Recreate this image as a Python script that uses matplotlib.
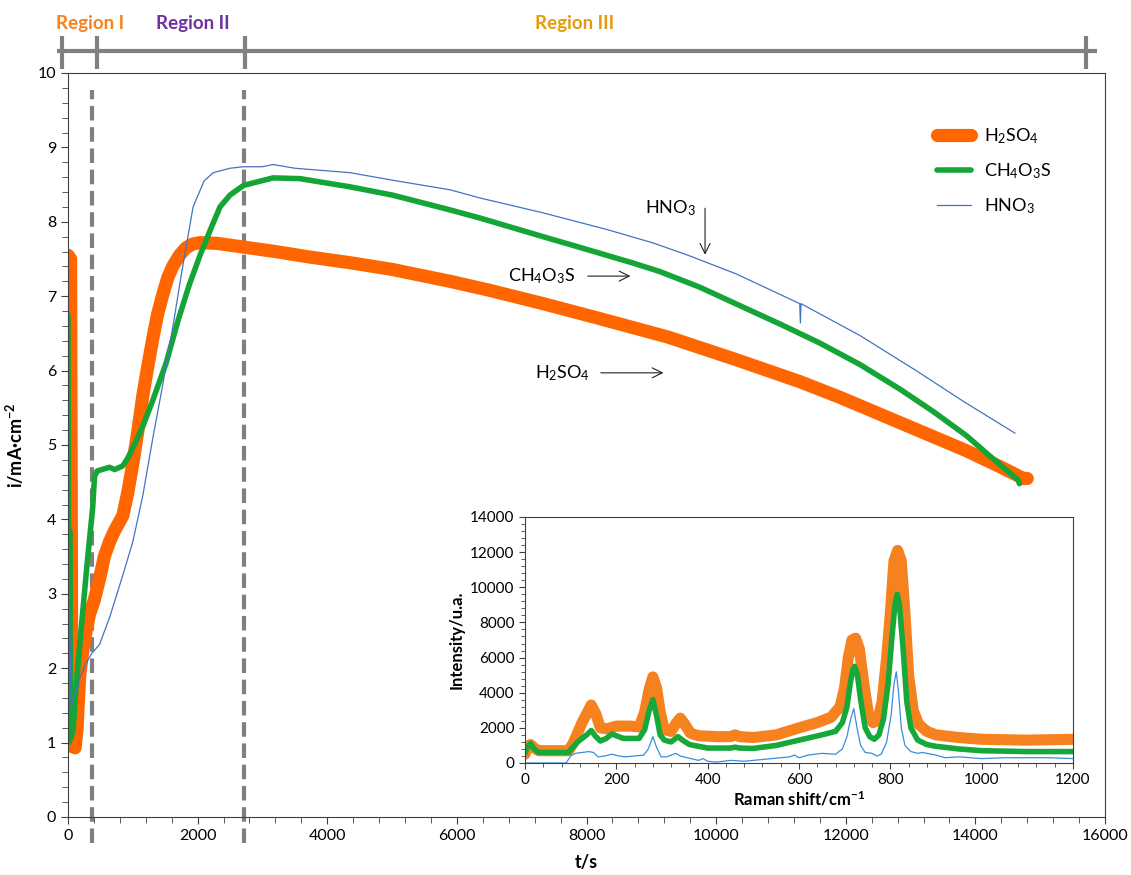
import numpy as np
import matplotlib.pyplot as plt
from matplotlib.ticker import MultipleLocator

plt.rcParams['font.family'] = ['Lato', 'DejaVu Sans']
plt.rcParams['mathtext.default'] = 'regular'

# curvas i-t (t en s, i en mA/cm2)
t_h2so4 = [0, 40, 60, 110, 140, 180, 230, 280, 333, 400, 487, 560, 641, 720, 846, 920, 1000, 1080,
           1154, 1230, 1308, 1380, 1462, 1540, 1615, 1720, 1820, 1920, 2037, 2300, 2710, 3200, 3700,
           4352, 5000, 5895, 6500, 7330, 8200, 9260, 10300, 11296, 11913, 12837, 13870, 14400, 14740, 14800]
i_h2so4 = [7.55, 7.5, 0.95, 0.93, 1.2, 1.9, 2.25, 2.5, 2.73, 2.9, 3.2, 3.5, 3.7, 3.85, 4.05, 4.35, 4.75, 5.2,
           5.66, 6.05, 6.43, 6.75, 7.02, 7.25, 7.4, 7.55, 7.65, 7.7, 7.72, 7.71, 7.66, 7.6, 7.53,
           7.45, 7.36, 7.2, 7.08, 6.9, 6.7, 6.45, 6.15, 5.85, 5.64, 5.3, 4.92, 4.7, 4.55, 4.55]

t_ch4o3s = [0, 15, 25, 40, 77, 120, 200, 300, 380, 410, 450, 487, 560, 641, 720, 846, 920, 1000, 1154,
            1308, 1513, 1700, 1870, 2037, 2200, 2345, 2500, 2710, 3164, 3580, 4352, 5000, 5895, 6358,
            7330, 8000, 8700, 9136, 9750, 10300, 11000, 11600, 12222, 12837, 13350, 13870, 14225, 14430,
            14660, 14680]
i_ch4o3s = [6.75, 1.0, 3.85, 1.05, 1.15, 1.7, 2.5, 3.45, 4.15, 4.58, 4.65, 4.66, 4.68, 4.7, 4.67, 4.72, 4.82, 4.96, 5.25,
            5.6, 6.1, 6.68, 7.15, 7.55, 7.9, 8.2, 8.36, 8.49, 8.59, 8.58, 8.47, 8.36, 8.16, 8.05,
            7.8, 7.63, 7.45, 7.33, 7.12, 6.9, 6.62, 6.37, 6.08, 5.75, 5.45, 5.12, 4.85, 4.7,
            4.53, 4.48]

t_hno3 = [0, 20, 50, 100, 180, 270, 360, 487, 641, 846, 1000, 1154, 1308, 1462, 1620, 1750, 1930, 2100,
          2240, 2500, 2710, 3000, 3164, 3500, 4352, 5000, 5895, 6358, 7330, 8300, 9012, 9568, 10309,
          11290, 11300, 11310, 12222, 13086, 13827, 14610]
i_hno3 = [6.6, 3.0, 1.48, 1.65, 1.86, 2.05, 2.19, 2.32, 2.68, 3.25, 3.7, 4.32, 5.09, 5.81, 6.6, 7.3, 8.2, 8.55,
          8.66, 8.72, 8.74, 8.74, 8.77, 8.72, 8.66, 8.56, 8.43, 8.32, 8.12, 7.9, 7.72, 7.55, 7.3,
          6.9, 6.64, 6.9, 6.47, 6.0, 5.58, 5.16]

# espectro raman del recuadro
x_r_h2so4 = [0, 5, 12, 20, 30, 60, 95, 105, 115, 125, 135, 145, 155, 165, 180, 200, 230, 250, 262, 272,
             280, 288, 296, 305, 320, 332, 340, 350, 362, 380, 420, 450, 460, 470, 500, 550, 600, 640,
             670, 690, 700, 708, 716, 724, 732, 742, 752, 762, 772, 782, 792, 800, 808, 816, 824, 832,
             840, 850, 862, 880, 900, 950, 1000, 1100, 1200]
y_r_h2so4 = [500, 900, 1050, 850, 700, 700, 700, 1100, 1700, 2300, 2800, 3300, 2800, 2000, 1950, 2100, 2100, 2050, 2900, 4200,
             4900, 4300, 2900, 1900, 1800, 2300, 2550, 2200, 1700, 1550, 1500, 1500, 1600, 1500, 1450, 1600, 2000, 2300,
             2600, 3200, 4300, 6000, 7000, 7100, 6500, 4500, 2800, 2300, 2400, 3500, 6000, 8500, 11500, 12100, 11500, 8500,
             5000, 3000, 2200, 1800, 1600, 1450, 1350, 1300, 1350]

x_r_ch4o3s = [0, 5, 12, 20, 30, 95, 105, 115, 125, 135, 145, 155, 165, 178, 190, 200, 215, 250, 262, 272,
              280, 288, 296, 305, 320, 335, 345, 360, 400, 450, 460, 470, 500, 550, 600, 650, 680, 695,
              705, 712, 718, 722, 728, 735, 745, 755, 765, 775, 785, 795, 803, 810, 815, 820, 828, 836,
              845, 860, 880, 900, 950, 1000, 1100, 1200]
y_r_ch4o3s = [600, 900, 1100, 800, 600, 600, 900, 1200, 1400, 1600, 1850, 1500, 1250, 1400, 1650, 1550, 1400, 1400, 1900, 3000,
              3600, 2700, 1600, 1300, 1200, 1500, 1300, 1050, 850, 850, 900, 850, 830, 1000, 1300, 1600, 1800, 2300,
              3200, 4500, 5300, 5500, 5000, 3600, 2000, 1500, 1350, 1600, 2500, 4500, 7000, 9000, 9600, 9000, 6500, 3500,
              2000, 1300, 1050, 950, 800, 700, 650, 650]

x_r_hno3 = [0, 40, 90, 100, 110, 125, 140, 150, 160, 175, 190, 205, 220, 240, 260, 270, 280, 288, 298, 310,
            320, 330, 340, 355, 380, 390, 400, 420, 450, 480, 520, 560, 580, 590, 600, 620, 650, 680, 695,
            705, 713, 720, 727, 735, 745, 760, 770, 780, 792, 802, 808, 813, 818, 824, 832, 845, 860, 870,
            900, 920, 950, 1000, 1050, 1100, 1150, 1200]
y_r_hno3 = [0, 0, 0, 400, 550, 600, 650, 600, 350, 400, 500, 400, 350, 400, 450, 800, 1500, 900, 350, 350,
            450, 550, 400, 300, 150, 250, 100, 50, 150, 100, 200, 300, 350, 450, 300, 450, 550, 500, 800,
            1500, 2500, 3100, 2000, 1000, 600, 550, 400, 500, 1200, 2800, 4500, 5200, 4000, 2000, 1000, 650, 550, 600,
            450, 300, 350, 250, 300, 300, 300, 250]

# regiones y lineas discontinuas
region_bounds = [-90, 450, 2730, 15700]
region_names = ['Region I', 'Region II', 'Region III']
region_label_t = [340, 1930, 7820]
region_colors = ['#F7811E', '#7030A0', '#E59B0C']
dashed_t = [370, 2710]

c_or = '#FF6600'
c_gr = '#14A536'
c_bl = '#4472C4'

fig = plt.figure(figsize=(11.31, 8.75), dpi=100)
ax = fig.add_axes([68/1131, 1-817/875, 1037/1131, 744/875])

ax.plot(t_h2so4, i_h2so4, color=c_or, lw=9.5, solid_capstyle='round', solid_joinstyle='round', label='H$_2$SO$_4$')
ax.plot(t_ch4o3s, i_ch4o3s, color=c_gr, lw=4, solid_capstyle='round', solid_joinstyle='round', label='CH$_4$O$_3$S')
ax.plot(t_hno3, i_hno3, color=c_bl, lw=0.9, label='HNO$_3$')

ax.set_xlim(0, 16000)
ax.set_ylim(0, 10)
ax.set_xticks(np.arange(0, 16001, 2000))
ax.set_yticks(np.arange(0, 11, 1))
ax.xaxis.set_minor_locator(MultipleLocator(400))
ax.yaxis.set_minor_locator(MultipleLocator(0.2))
ax.tick_params(which='both', direction='out', color='#404040', labelsize=11.5)
ax.tick_params(which='major', length=5)
ax.tick_params(which='minor', length=4)
for s in ax.spines.values():
    s.set_color('#404040')
    s.set_linewidth(0.8)

ax.set_xlabel('t/s', fontsize=13, fontweight='bold', labelpad=8)
ax.set_ylabel('i/mA·cm$^{-2}$', fontsize=13, fontweight='bold', labelpad=8)

# lineas verticales discontinuas (salen del eje)
for td in dashed_t:
    ax.plot([td, td], [-0.35, 9.77], color='#808080', lw=3, ls='--', dashes=(3.5, 1.6), clip_on=False, zorder=1)

# barra de regiones arriba
ax.plot([-170, 15880], [10.3, 10.3], color='#808080', lw=3, clip_on=False, solid_capstyle='butt')
for tb in region_bounds:
    ax.plot([tb, tb], [10.06, 10.5], color='#808080', lw=3, clip_on=False, solid_capstyle='butt')
for name, tl, col in zip(region_names, region_label_t, region_colors):
    ax.text(tl, 10.66, name, color=col, fontsize=13.5, fontweight='bold', ha='center', va='center')

# flechas con etiquetas
ax.text(9289, 8.19, 'HNO$_3$', fontsize=13, ha='center', va='center')
ax.annotate('', xy=(9829, 7.52), xytext=(9829, 8.22),
            arrowprops=dict(arrowstyle='->', lw=0.8, color='#222222', mutation_scale=18))
ax.text(7298, 7.27, 'CH$_4$O$_3$S', fontsize=13, ha='center', va='center')
ax.annotate('', xy=(8720, 7.27), xytext=(7977, 7.27),
            arrowprops=dict(arrowstyle='->', lw=0.8, color='#222222', mutation_scale=18))
ax.text(7622, 5.97, 'H$_2$SO$_4$', fontsize=13, ha='center', va='center')
ax.annotate('', xy=(9230, 5.97), xytext=(8178, 5.97),
            arrowprops=dict(arrowstyle='->', lw=0.8, color='#222222', mutation_scale=18))

ax.legend(loc='upper left', bbox_to_anchor=(0.838, 0.929), frameon=False, fontsize=13,
          borderaxespad=0, borderpad=0, handlelength=1.9, handletextpad=0.7, labelspacing=0.85)

# recuadro con el espectro raman
ax2 = fig.add_axes([525/1131, 1-763/875, 548/1131, 246/875])
ax2.plot(x_r_h2so4, y_r_h2so4, color='#F5821F', lw=8, solid_capstyle='round', solid_joinstyle='round')
ax2.plot(x_r_ch4o3s, y_r_ch4o3s, color='#17A83A', lw=4, solid_joinstyle='round')
ax2.plot(x_r_hno3, y_r_hno3, color='#3A8EDB', lw=0.9)
ax2.set_xlim(0, 1200)
ax2.set_ylim(0, 14000)
ax2.set_xticks(np.arange(0, 1201, 200))
ax2.set_yticks(np.arange(0, 14001, 2000))
ax2.xaxis.set_minor_locator(MultipleLocator(40))
ax2.yaxis.set_minor_locator(MultipleLocator(400))
ax2.tick_params(which='both', direction='out', color='#404040', labelsize=11)
ax2.tick_params(which='major', length=4)
ax2.tick_params(which='minor', length=3)
for s in ax2.spines.values():
    s.set_color('#404040')
    s.set_linewidth(0.8)
ax2.set_xlabel('Raman shift/cm$^{-1}$', fontsize=12, fontweight='bold', labelpad=2)
ax2.set_ylabel('Intensity/u.a.', fontsize=12, fontweight='bold', labelpad=4)

plt.savefig('out.png', dpi=100)
